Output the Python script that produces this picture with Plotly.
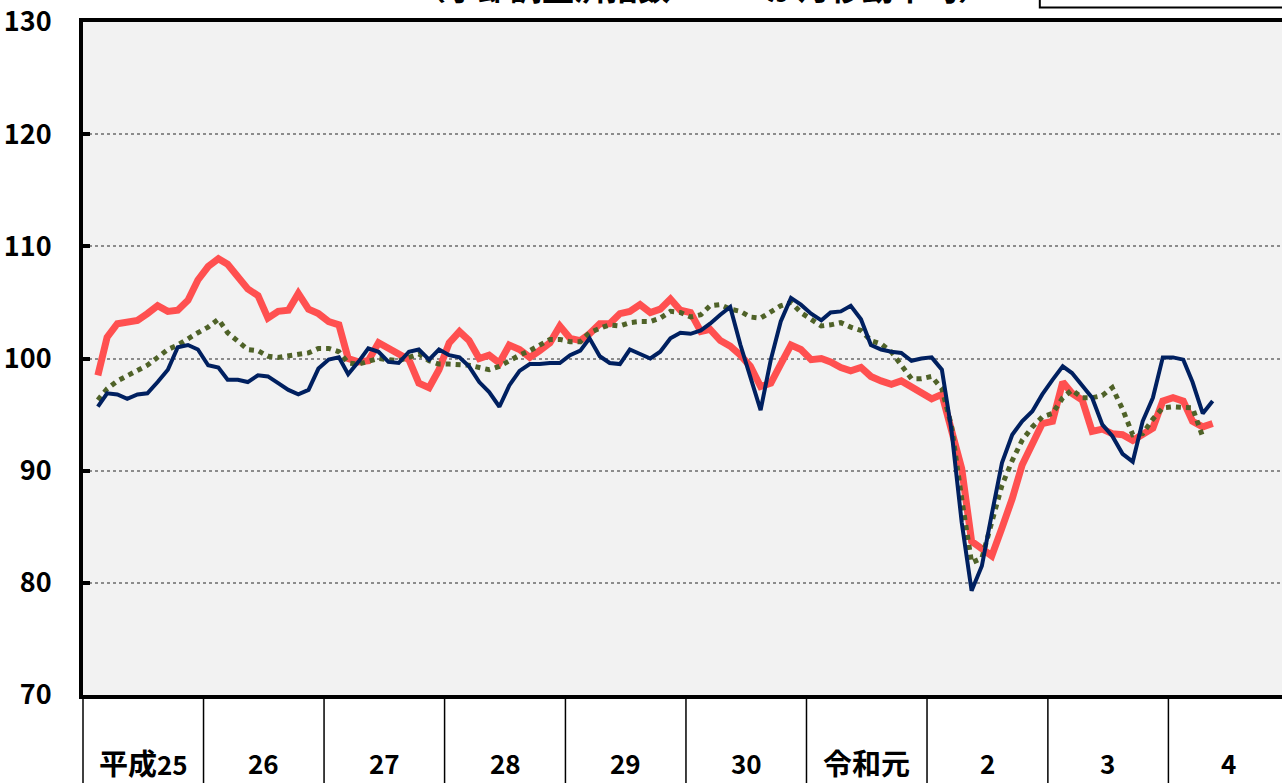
import pandas as pd
import plotly.graph_objects as go

# ---- data (3-month moving average, seasonally adjusted index) ----
first_month = "2013-02-01"

red_values = [
    98.5, 101.9, 103.1, 103.2, 103.4, 104.0, 104.7, 104.2, 104.3, 105.2, 107.0,
    108.2, 108.9, 108.4, 107.3, 106.2, 105.6, 103.6, 104.2, 104.3, 105.8, 104.4, 104.0,
    103.3, 103.0, 100.0, 99.7, 99.8, 101.4, 100.9, 100.4, 99.9, 97.8, 97.4, 99.0,
    101.4, 102.4, 101.6, 100.0, 100.3, 99.6, 101.2, 100.8, 100.1, 100.7, 101.4, 102.9,
    101.8, 101.6, 102.2, 103.1, 103.1, 104.0, 104.2, 104.8, 104.1, 104.4, 105.3, 104.3,
    104.1, 102.4, 102.6, 101.6, 101.1, 100.3, 99.3, 97.5, 97.8, 99.5, 101.2, 100.8,
    99.9, 100.0, 99.7, 99.2, 98.9, 99.2, 98.4, 98.0, 97.7, 98.0, 97.5, 96.9,
    96.4, 96.8, 93.6, 90.2, 83.7, 83.1, 82.4, 84.9, 87.5, 90.5, 92.5, 94.2,
    94.4, 97.9, 96.9, 96.3, 93.5, 93.7, 93.3, 93.2, 92.7, 93.3, 93.8, 96.2,
    96.5, 96.2, 94.4, 93.9, 94.2,
]

blue_values = [
    95.7, 96.9, 96.8, 96.4, 96.8, 96.9, 97.9, 99.0, 101.0, 101.2, 100.8,
    99.4, 99.2, 98.1, 98.1, 97.9, 98.5, 98.4, 97.8, 97.2, 96.8, 97.2, 99.1,
    99.9, 100.1, 98.6, 99.7, 100.9, 100.6, 99.7, 99.6, 100.6, 100.8, 99.9, 100.8,
    100.3, 100.1, 99.3, 97.9, 97.0, 95.7, 97.6, 98.9, 99.5, 99.5, 99.6, 99.6,
    100.3, 100.7, 101.8, 100.2, 99.6, 99.5, 100.8, 100.4, 100.0, 100.6, 101.8, 102.3,
    102.2, 102.5, 103.1, 103.9, 104.6, 101.2, 98.4, 95.4, 99.9, 103.3, 105.4, 104.8,
    104.0, 103.4, 104.1, 104.2, 104.7, 103.5, 101.2, 100.8, 100.6, 100.5, 99.8, 100.0,
    100.1, 99.0, 93.6, 85.4, 79.3, 81.5, 86.1, 90.7, 93.2, 94.4, 95.3, 96.8,
    98.1, 99.3, 98.7, 97.6, 96.5, 94.1, 93.1, 91.5, 90.8, 94.4, 96.5, 100.1,
    100.1, 99.9, 97.9, 95.1, 96.2,
]

green_values = [
    96.3, 97.3, 98.0, 98.5, 99.0, 99.4, 100.1, 100.8, 101.2, 101.8, 102.3,
    102.8, 103.5, 102.3, 101.6, 100.8, 100.7, 100.2, 100.1, 100.2, 100.35, 100.5, 100.9,
    100.9, 100.6, 99.6, 99.5, 99.8, 100.0, 99.9, 99.8, 100.1, 100.4, 99.8, 99.5,
    99.5, 99.5, 99.4, 99.2, 99.0, 99.3, 99.8, 100.3, 100.7, 101.2, 101.7, 101.7,
    101.5, 101.5, 102.3, 102.7, 103.0, 102.9, 103.2, 103.3, 103.3, 103.6, 104.2, 104.1,
    103.7, 103.9, 104.7, 104.8, 104.4, 104.2, 103.7, 103.6, 104.1, 104.7, 105.0, 104.1,
    103.5, 102.9, 103.0, 103.2, 102.8, 102.5, 101.6, 101.3, 100.6, 99.4, 98.2, 98.2,
    98.4, 97.3, 94.0, 87.5, 81.8, 82.2, 85.4, 88.7, 90.9, 92.7, 93.9, 94.8,
    95.1, 96.5, 97.2, 96.5, 96.5, 96.7, 97.4, 95.5, 93.2, 93.3, 94.6, 95.6,
    95.7, 95.7, 95.6, 93.0,
]

year_era = ["平成", "", "", "", "", "", "令和", "", "", ""]
year_nums = ["25", "26", "27", "28", "29", "30", "元", "2", "3", "4"]
first_year = 2013
y_ticks = [70, 80, 90, 100, 110, 120, 130]
title_text = "（季節調整済指数　　３か月移動平均）"

# ---- build ----
def month_dates(n):
    return pd.date_range(first_month, periods=n, freq="MS") + pd.Timedelta(days=14)

RED = "#FF5050"
BLUE = "#002060"
GREEN = "#4F6228"
FONT = "Noto Sans CJK JP"

fig = go.Figure()
fig.add_trace(go.Scatter(x=month_dates(len(red_values)), y=red_values, mode="lines",
                         line=dict(color=RED, width=7), hoverinfo="skip", showlegend=False))
fig.add_trace(go.Scatter(x=month_dates(len(green_values)), y=green_values, mode="lines",
                         line=dict(color=GREEN, width=5, dash="dot"), hoverinfo="skip", showlegend=False))
fig.add_trace(go.Scatter(x=month_dates(len(blue_values)), y=blue_values, mode="lines",
                         line=dict(color=BLUE, width=4), hoverinfo="skip", showlegend=False))

years = [first_year + k for k in range(len(year_nums))]

# year separators below the axis
for k, yr in enumerate(years):
    fig.add_shape(type="line", xref="x" if k > 0 else "paper", yref="paper",
                  x0=f"{yr}-01-01" if k > 0 else 0, x1=f"{yr}-01-01" if k > 0 else 0,
                  y0=0, y1=-0.14, line=dict(color="black", width=1.5), layer="below")

# year labels (era kanji set a little larger, like the reference)
for yr, era, num in zip(years, year_era, year_nums):
    if num == "元":
        label = f"<span style='font-size:29px'>{era}{num}</span>"
    elif era:
        label = f"<span style='font-size:29px'>{era}</span>{num}"
    else:
        label = num
    fig.add_annotation(x=f"{yr}-07-02", xref="x", y=0, yref="paper", yanchor="middle",
                       yshift=-67, text=label, showarrow=False,
                       font=dict(family=FONT, size=26, color="black", weight="bold"))

# cropped title & box at top (the reference is cut off at the top edge)
fig.add_annotation(x=0.516, xref="paper", y=1, yref="paper", yanchor="bottom", yshift=11,
                   text=title_text, showarrow=False,
                   font=dict(family=FONT, size=32, color="black", weight="bold"))
fig.add_shape(type="rect", xref="paper", yref="paper", x0=0.798, x1=1.05, y0=1.0215, y1=1.08,
              line=dict(color="black", width=2), fillcolor="white", layer="above")

fig.update_layout(
    width=1282, height=783,
    margin=dict(l=83, r=0, t=20, b=88),
    paper_bgcolor="white", plot_bgcolor="#F2F2F2",
    xaxis=dict(range=["2013-01-01", "2022-12-11"], showgrid=False, zeroline=False,
               showline=True, linewidth=4, linecolor="black", mirror=True,
               showticklabels=False, ticks=""),
    yaxis=dict(range=[70, 130], tickvals=y_ticks, showgrid=True, gridcolor="#8C8C8C",
               griddash="dot", gridwidth=2, zeroline=False,
               showline=True, linewidth=4, linecolor="black",
               ticks="inside", ticklen=7, tickwidth=4, tickcolor="black",
               ticklabelstandoff=22, ticklabeloverflow="allow",
               tickfont=dict(family=FONT, size=27, color="black", weight="bold")),
)

fig.write_html("out.html", config={"displayModeBar": False},
               post_script="document.body.style.margin='0';")
